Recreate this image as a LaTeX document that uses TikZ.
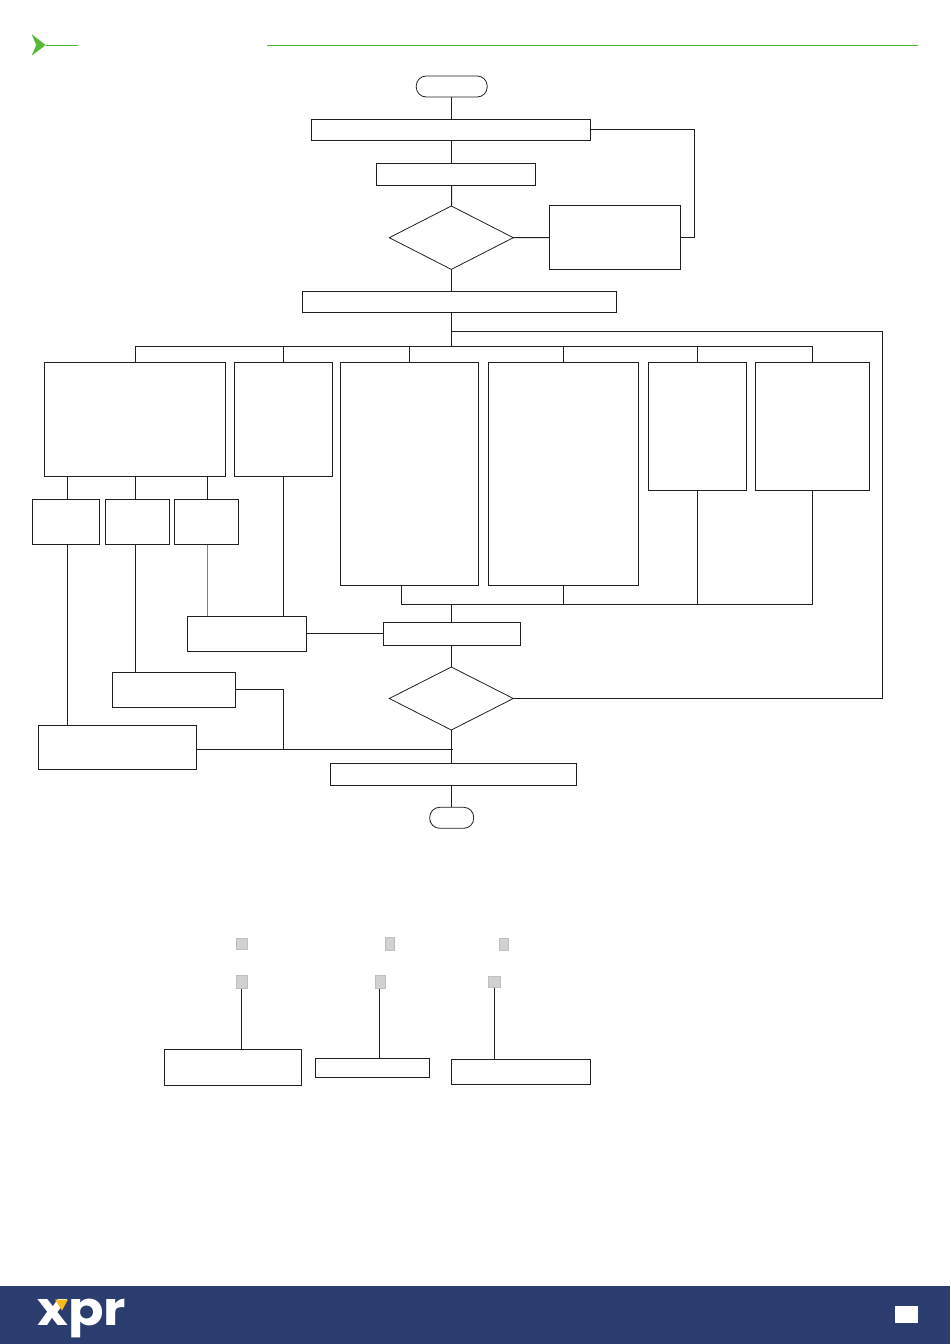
\documentclass[tikz,border=0pt]{standalone}
\usepackage{fontspec}
\setmainfont{Liberation Sans}
\newfontfamily\logofont{Poppins}
\usetikzlibrary{positioning}
\usetikzlibrary{shapes}
\definecolor{xprblue}{HTML}{2B3C6E}
\definecolor{xprgreen}{HTML}{55B938}
\definecolor{xpryellow}{HTML}{F9B91C}
\definecolor{inkline}{HTML}{231F20}
\tikzset{
    size/.style 2 args = {minimum width = #1*0.75pt, minimum height = #2*0.75pt},
    cell/.style = {rectangle, draw=inkline, line width=0.75pt, inner sep=0pt, outer sep=0pt},
    term/.style = {rectangle, rounded corners=7.5pt, draw=inkline, line width=0.6pt, inner sep=0pt, outer sep=0pt},
    decide/.style = {diamond, aspect=1.96, draw=inkline, line width=0.6pt, inner sep=0pt, outer sep=0pt},
    pin/.style = {rectangle, draw=black!25, fill=black!18, line width=0.6pt, inner sep=0pt, outer sep=0pt},
    edgen/.style = {draw=inkline, line width=0.75pt},
    edgeg/.style = {draw=black!50, line width=0.75pt},
    rule/.style = {draw=xprgreen, line width=0.6pt}
}

\begin{document}
\begin{tikzpicture}[x=0.75pt,y=-0.75pt]
\useasboundingbox (0,0) rectangle (950,1344);
% header
\coordinate (rulea) at (45.7,45.3);
\coordinate (ruleb) at (78,45.3);
\coordinate (rulec) at (267,45.3);
\coordinate (ruled) at (918,45.3);
\fill[xprgreen] (31.7,34.3) -- (45.7,45) -- (31.7,55.7) -- (36.2,45) -- cycle;
\draw[rule] (rulea) -- (ruleb);
\draw[rule] (rulec) -- (ruled);
% upper flow
\node[term, size={71}{21}] at (451.7,86.5) (start) {};
\node[cell, size={279}{21.4}] at (451.2,130) (init) {};
\node[cell, size={159.4}{22}] at (456,174.3) (check) {};
\node[decide, size={124}{63.4}] at (451.3,237.7) (deca) {};
\node[cell, size={131.4}{63.6}] at (615,237.5) (fail) {};
\node[cell, size={314.4}{21}] at (459.5,301.8) (menu) {};
\coordinate (busa) at (451.3,346);
\coordinate (loopa) at (451.3,331.3);
\coordinate (loopb) at (882,331.3);
\coordinate (failb) at (694,237.5);
% options
\node[cell, size={181}{114.5}] at (135,419.7) (opta) {};
\node[cell, size={98}{114.5}] at (283.4,419.7) (optb) {};
\node[cell, size={138.6}{223.5}] at (409.4,474.2) (optc) {};
\node[cell, size={150.5}{223.5}] at (563.7,474.2) (optd) {};
\node[cell, size={98.5}{128}] at (697.7,426.5) (opte) {};
\node[cell, size={114}{128}] at (812.4,426.5) (optf) {};
\node[cell, size={67}{45}] at (65.9,522) (suba) {};
\node[cell, size={64}{45}] at (137.4,522) (subb) {};
\node[cell, size={64}{45}] at (206.4,522) (subc) {};
\coordinate (tapa) at (67,477);
\coordinate (tapb) at (135.3,477);
\coordinate (tapc) at (207,477);
\coordinate (tapd) at (401.3,586);
% lower flow
\coordinate (busb) at (451.3,604.3);
\node[cell, size={119.4}{35}] at (247,633.8) (join) {};
\node[cell, size={137.4}{23}] at (452,633.8) (stepa) {};
\node[cell, size={123.4}{35}] at (174,689.8) (leftb) {};
\node[cell, size={158.4}{44.4}] at (117.5,747.5) (lefta) {};
\node[decide, size={124}{63}] at (451.3,698.5) (decb) {};
\node[cell, size={246.2}{22.3}] at (453.5,774.2) (last) {};
\node[term, size={44}{21}] at (451.7,817.8) (stop) {};
\coordinate (mergea) at (452.7,749.3);
\coordinate (mergeb) at (283.3,689.3);
%
\draw[edgen] (start) -- (start |- init.north);
\draw[edgen] (start |- init.south) -- (start |- check.north);
\draw[edgen] (start |- check.south) -- (deca);
\draw[edgen] (deca) -- (fail);
\draw[edgen] (fail.east) -- (failb) -- (failb |- init.east) -- (init.east);
\draw[edgen] (deca) -- (deca |- menu.north);
\draw[edgen] (deca |- menu.south) -- (busa);
\draw[edgen] (loopa) -- (loopb) -- (loopb |- decb.east) -- (decb);
\draw[edgen] (opta.north |- busa) -- (optf.north |- busa);
\foreach \opt in {a,b,c,d,e,f}
    \draw[edgen] (opt\opt.north |- busa) -- (opt\opt.north);
\draw[edgen] (tapa) -- (tapa |- suba.north);
\draw[edgen] (tapb) -- (tapb |- subb.north);
\draw[edgen] (tapc) -- (tapc |- subc.north);
\draw[edgen] (tapa |- suba.south) -- (tapa |- lefta.north);
\draw[edgen] (tapb |- subb.south) -- (tapb |- leftb.north);
\draw[edgeg] (tapc |- subc.south) -- (tapc |- join.north);
\draw[edgen] (optb) -- (optb |- join.north);
\draw[edgen] (tapd) -- (tapd |- busb) -- (optf.south |- busb) -- (optf.south);
\draw[edgen] (optd.south) -- (optd.south |- busb);
\draw[edgen] (opte.south) -- (opte.south |- busb);
\draw[edgen] (busb) -- (busb |- stepa.north);
\draw[edgen] (join) -- (stepa);
\draw[edgen] (busb |- stepa.south) -- (decb);
\draw[edgen] (decb) -- (busb |- last.north);
\draw[edgen] (lefta.east |- mergea) -- (mergea);
\draw[edgen] (leftb.east |- mergeb) -- (mergeb) -- (mergeb |- mergea);
\draw[edgen] (busb |- last.south) -- (busb |- stop.north);
% terminals
\node[pin, size={11.5}{11.5}] at (241.8,944) (pina) {};
\node[pin, size={9.5}{13.5}] at (390,944) (pinb) {};
\node[pin, size={9.5}{12.5}] at (504,944.5) (pinc) {};
\node[pin, size={11.5}{13.5}] at (241.8,982) (pind) {};
\node[pin, size={10.5}{13.5}] at (380.5,982) (pine) {};
\node[pin, size={12.5}{11.5}] at (494.3,982) (pinf) {};
\node[cell, size={137.4}{36.4}] at (233,1067.5) (wirea) {};
\node[cell, size={114.4}{19.4}] at (372.5,1068) (wireb) {};
\node[cell, size={139.4}{25.4}] at (521,1072) (wirec) {};
\coordinate (stema) at (241.3,989);
\coordinate (stemb) at (379.3,989);
\draw[edgen] (stema) -- (stema |- wirea.north);
\draw[edgen] (stemb) -- (stemb |- wireb.north);
\draw[edgen] (pinf.south) -- (pinf.south |- wirec.north);
% footer
\fill[xprblue] (0,1286) rectangle (950,1344);
\node[font=\fontsize{35}{35}\logofont\bfseries, text=white, xscale=1.12, anchor=base, inner sep=0pt] at (82,1325) (logo) {xpr};
\fill[xpryellow] (55,1299.5) -- (68,1299.5) -- (62,1310.5) -- cycle;
\node[fill=white, inner sep=0pt, size={23}{17.5}] at (906.4,1314.7) (page) {};
\end{tikzpicture}
\end{document}
